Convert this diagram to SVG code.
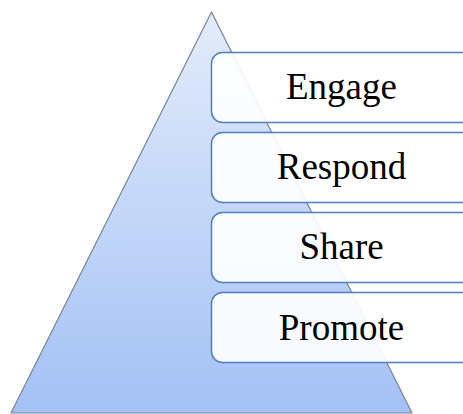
<svg xmlns="http://www.w3.org/2000/svg" width="463" height="414" viewBox="0 0 463 414">
  <defs>
    <linearGradient id="pyramidFill" x1="0" y1="0" x2="0" y2="1">
      <stop offset="0" stop-color="#e3ecfb"/>
      <stop offset="1" stop-color="#a3c1f5"/>
    </linearGradient>
    <style>
      .step rect { fill: #ffffff; fill-opacity: 0.9; stroke: #4f7fbf; stroke-width: 1.5; }
      .step text { font-family: "Liberation Serif", "Times New Roman", serif; font-size: 37px; fill: #000000; text-anchor: middle; }
    </style>
  </defs>
  <rect width="463" height="414" fill="#ffffff"/>

  <!-- background pyramid -->
  <g id="pyramid">
    <polygon points="211.5,12 11,413 412,413" fill="url(#pyramidFill)" stroke="#7a8593" stroke-width="1.2" stroke-linejoin="round"/>
  </g>

  <!-- stacked stages, top to bottom -->
  <g id="engage" class="step">
    <rect x="211.5" y="52.5" width="262" height="70" rx="11"/>
    <text x="341.5" y="98.5">Engage</text>
  </g>
  <g id="respond" class="step">
    <rect x="211.5" y="132.5" width="262" height="70" rx="11"/>
    <text x="341.5" y="178.5">Respond</text>
  </g>
  <g id="share" class="step">
    <rect x="211.5" y="212.5" width="262" height="70" rx="11"/>
    <text x="341.5" y="258.5">Share</text>
  </g>
  <g id="promote" class="step">
    <rect x="211.5" y="292.5" width="262" height="70" rx="11"/>
    <text x="341.5" y="340">Promote</text>
  </g>

  <g id="connectors"/>
</svg>
